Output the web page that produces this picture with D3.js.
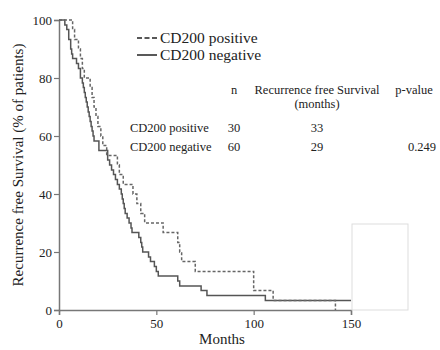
<!DOCTYPE html>
<html>
<head>
<meta charset="utf-8">
<script src="https://cdn.jsdelivr.net/npm/d3@7"></script>
<style>
body { margin: 0; background: #fff; }
svg text { font-family: "Liberation Serif", "DejaVu Serif", serif; fill: #222; }
</style>
</head>
<body>
<svg id="km" width="440" height="350"></svg>
<script>
// CD200 positive (n=30), dashed
var posTimes = [0, 7, 8, 10, 11, 12, 13, 16, 17, 18, 19, 20, 21.5, 22.5, 24.5, 30, 31, 33, 38, 40, 42, 44, 53.5, 61, 62, 63, 70, 100, 110, 142];
var posSurv  = [100, 96.7, 93.3, 90, 86.7, 83.3, 80, 76.7, 73.3, 70, 66.7, 63.3, 60, 56.7, 53.3, 50, 46.7, 43.3, 40, 36.7, 33.3, 30, 26.7, 23.3, 20, 16.7, 13.3, 6.7, 3.3, 0];

// CD200 negative (n=60), solid
var negTimes = [0, 3, 4, 5, 6, 6.5, 7, 9, 10, 11, 12, 12.5, 13, 13.5, 14, 14.5, 15, 15.5, 16, 16.5, 17, 17.5, 18, 20.5, 25, 26, 27, 28, 29, 30, 31, 32, 32.5, 33, 33.5, 34, 35, 36, 37, 37.5, 41, 42, 42.5, 43, 46, 47, 49, 50, 51, 61, 62, 73, 76, 106, 150];
var negSurv  = [100, 98.3, 96.7, 93.3, 90, 88.3, 86.7, 85, 83.3, 80, 78.3, 76.7, 75, 73.3, 71.7, 70, 68.3, 66.7, 65, 63.3, 61.7, 60, 58.3, 55, 51.7, 50, 48.3, 46.7, 45, 43.3, 41.7, 40, 38.3, 36.7, 35, 33.3, 31.7, 30, 28.3, 26.7, 25, 23.3, 21.7, 20, 18.3, 16.7, 15, 13.3, 11.7, 10, 8.3, 6.7, 5, 3.3, 3.3];

var xTicks = [0, 50, 100, 150];
var yTicks = [0, 20, 40, 60, 80, 100];

var tableHead = ["n", "Recurrence free Survival", "p-value"];
var tableRows = ["CD200 positive", "CD200 negative"];
var tableN = ["30", "60"];
var tableMedian = ["33", "29"];
var tableP = ["", "0.249"];

var svg = d3.select("#km");

var x = d3.scaleLinear().domain([0, 150]).range([59, 351]);
var y = d3.scaleLinear().domain([0, 100]).range([310, 20]);

var axisColor = "#777";

var gx = svg.append("g")
    .attr("transform", "translate(0,310)")
    .call(d3.axisBottom(x).tickValues(xTicks).tickSize(5).tickPadding(4));
var gy = svg.append("g")
    .attr("transform", "translate(59,0)")
    .call(d3.axisLeft(y).tickValues(yTicks).tickSize(5).tickPadding(2));

[gx, gy].forEach(function(g) {
    g.select(".domain").attr("stroke", axisColor).attr("stroke-width", 1.5);
    g.selectAll(".tick line").attr("stroke", axisColor).attr("stroke-width", 1.2);
    g.selectAll(".tick text")
        .attr("fill", "#222")
        .style("font-family", "'Liberation Serif', serif")
        .style("font-size", "13px");
});

// stray box at right of plot
svg.append("rect")
    .attr("x", 352).attr("y", 224)
    .attr("width", 56).attr("height", 86)
    .attr("fill", "none").attr("stroke", "#ddd").attr("stroke-width", 1);

var line = d3.line()
    .x(function(d) { return x(d[0]); })
    .y(function(d) { return y(d[1]); })
    .curve(d3.curveStepAfter);

var neg = negTimes.map(function(t, i) { return [t, negSurv[i]]; });
var pos = posTimes.map(function(t, i) { return [t, posSurv[i]]; });

svg.append("path")
    .datum(neg)
    .attr("d", line)
    .attr("fill", "none")
    .attr("stroke", "#555")
    .attr("stroke-width", 1.5);

svg.append("path")
    .datum(pos)
    .attr("d", line)
    .attr("fill", "none")
    .attr("stroke", "#666")
    .attr("stroke-width", 1.5)
    .attr("stroke-dasharray", "3,2");

// legend
var legend = svg.append("g");
legend.append("line")
    .attr("x1", 137).attr("x2", 157).attr("y1", 38).attr("y2", 38)
    .attr("stroke", "#222").attr("stroke-width", 1.5).attr("stroke-dasharray", "5,2.5");
legend.append("line")
    .attr("x1", 137).attr("x2", 157).attr("y1", 55).attr("y2", 55)
    .attr("stroke", "#222").attr("stroke-width", 1.5);
legend.append("text").attr("x", 160).attr("y", 43).style("font-size", "15.5px").text("CD200 positive");
legend.append("text").attr("x", 160).attr("y", 60).style("font-size", "15.5px").text("CD200 negative");

// table
var tbl = svg.append("g").style("font-size", "12.5px");
var colX = [234, 317, 414];
tbl.selectAll("text.head")
    .data(tableHead)
    .enter().append("text")
    .attr("class", "head")
    .attr("x", function(d, i) { return colX[i]; })
    .attr("y", 94)
    .attr("text-anchor", "middle")
    .text(function(d) { return d; });
tbl.append("text").attr("x", colX[1]).attr("y", 108).attr("text-anchor", "middle").text("(months)");

tableRows.forEach(function(r, i) {
    var yy = 132 + i * 19;
    tbl.append("text").attr("x", 130).attr("y", yy).text(r);
    tbl.append("text").attr("x", colX[0]).attr("y", yy).attr("text-anchor", "middle").text(tableN[i]);
    tbl.append("text").attr("x", colX[1]).attr("y", yy).attr("text-anchor", "middle").text(tableMedian[i]);
    tbl.append("text").attr("x", 422).attr("y", yy).attr("text-anchor", "middle").text(tableP[i]);
});

// axis titles
svg.append("text")
    .attr("x", 222).attr("y", 344)
    .attr("text-anchor", "middle")
    .style("font-size", "15px")
    .text("Months");

svg.append("text")
    .attr("transform", "translate(23,165) rotate(-90)")
    .attr("text-anchor", "middle")
    .style("font-size", "15px")
    .text("Recurrence free Survival (% of patients)");
</script>
</body>
</html>
